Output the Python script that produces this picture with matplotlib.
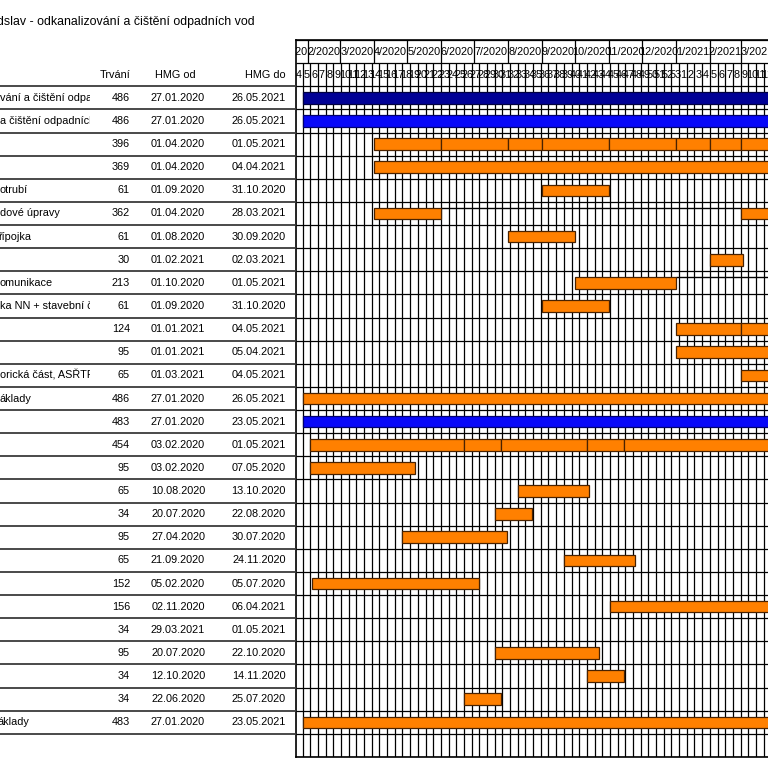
import matplotlib
matplotlib.use('Agg')
import matplotlib.pyplot as plt
import matplotlib.dates as mdates
from matplotlib.patches import Rectangle
import pandas as pd

plt.rcParams['font.family'] = ['Liberation Sans', 'DejaVu Sans']

# ---------------- data ----------------
title = "dslav - odkanalizování a čištění odpadních vod"
col_headers = ["Trvání", "HMG od", "HMG do"]

names = [
    "vání a čištění odpadních vod", "a čištění odpadních vod", "", "",
    "otrubí", "dové úpravy", "řípojka", "", "omunikace",
    "ka NN + stavební část", "", "", "orická část, ASŘTP", "áklady",
    "", "", "", "", "", "", "", "", "", "", "", "", "", "áklady",
]
durations = [486, 486, 396, 369, 61, 362, 61, 30, 213, 61, 124, 95, 65, 486,
             483, 454, 95, 65, 34, 95, 65, 152, 156, 34, 95, 34, 34, 483]
date_from = ["27.01.2020", "27.01.2020", "01.04.2020", "01.04.2020", "01.09.2020",
             "01.04.2020", "01.08.2020", "01.02.2021", "01.10.2020", "01.09.2020",
             "01.01.2021", "01.01.2021", "01.03.2021", "27.01.2020", "27.01.2020",
             "03.02.2020", "03.02.2020", "10.08.2020", "20.07.2020", "27.04.2020",
             "21.09.2020", "05.02.2020", "02.11.2020", "29.03.2021", "20.07.2020",
             "12.10.2020", "22.06.2020", "27.01.2020"]
date_to = ["26.05.2021", "26.05.2021", "01.05.2021", "04.04.2021", "31.10.2020",
           "28.03.2021", "30.09.2020", "02.03.2021", "01.05.2021", "31.10.2020",
           "04.05.2021", "05.04.2021", "04.05.2021", "26.05.2021", "23.05.2021",
           "01.05.2021", "07.05.2020", "13.10.2020", "22.08.2020", "30.07.2020",
           "24.11.2020", "05.07.2020", "06.04.2021", "01.05.2021", "22.10.2020",
           "14.11.2020", "25.07.2020", "23.05.2021"]
kinds = ["navy", "blue"] + ["orange"] * 12 + ["blue"] + ["orange"] * 13

# split / segmented bars (row index -> list of segments)
segments = {
    2: [("01.04.2020", "31.05.2020"), ("01.06.2020", "31.07.2020"),
        ("01.08.2020", "31.08.2020"), ("01.09.2020", "31.10.2020"),
        ("01.11.2020", "31.12.2020"), ("01.01.2021", "31.01.2021"),
        ("01.02.2021", "28.02.2021"), ("01.03.2021", "01.05.2021")],
    5: [("01.04.2020", "31.05.2020"), ("01.03.2021", "28.03.2021")],
    8: [("01.10.2020", "31.12.2020"), ("01.04.2021", "01.05.2021")],
    10: [("01.01.2021", "28.02.2021"), ("01.03.2021", "04.05.2021")],
    15: [("03.02.2020", "21.06.2020"), ("22.06.2020", "25.07.2020"),
         ("26.07.2020", "11.10.2020"), ("12.10.2020", "14.11.2020"),
         ("15.11.2020", "01.05.2021")],
}
connectors = {
    5: ("01.06.2020", "01.03.2021"),
    8: ("01.01.2021", "01.04.2021"),
}

view_start = "21.01.2020"
view_end = "26.03.2021"

colors = {"navy": "#000096", "blue": "#0808F8", "orange": "#FF8000"}
edges = {"navy": "#000040", "blue": "#000070", "orange": "#4a2200"}

# ---------------- helpers ----------------
def d(s):
    return pd.to_datetime(s, format="%d.%m.%Y")

def dn(s):
    return mdates.date2num(d(s))

FS = 7.8
W, H = 768, 768
fig = plt.figure(figsize=(W / 100, H / 100), dpi=100)
top_px, bot_px, split_px = 40, 757, 296
nrows = len(names)
y_top, y_bot = -2, nrows + 1

gax = fig.add_axes([split_px / W, (H - bot_px) / H, (W - split_px) / W, (bot_px - top_px) / H])
tax = fig.add_axes([0, (H - bot_px) / H, split_px / W, (bot_px - top_px) / H])

# ---------------- gantt ----------------
x0, x1 = dn(view_start), dn(view_end)
gax.set_xlim(x0, x1)
gax.set_ylim(y_bot, y_top)
gax.tick_params(left=False, bottom=False, labelleft=False, labelbottom=False)
gax.spines["right"].set_visible(False)
for s in ["left", "top", "bottom"]:
    gax.spines[s].set_linewidth(1.2)

# horizontal grid
gax.hlines(list(range(y_top, y_bot + 1)), x0, x1, color="black", lw=0.9, zorder=1)
# weekly lines
mondays = pd.date_range(d("20.01.2020"), d(view_end), freq="W-MON")
gax.vlines(mdates.date2num(mondays), -1, y_bot, color="black", lw=0.9, zorder=1)
# month lines
months = pd.date_range(d("01.01.2020"), d("01.04.2021"), freq="MS")
gax.vlines(mdates.date2num(months), -2, -1, color="black", lw=0.9, zorder=1)

for m, m_next in zip(months[:-1], months[1:]):
    c = mdates.date2num(m) + (mdates.date2num(m_next) - mdates.date2num(m)) / 2
    gax.text(c, -1.5, f"{m.month}/{m.year}", ha="center", va="center",
             fontsize=FS, clip_on=True, zorder=3)
for mo in mondays:
    wk = mo.isocalendar().week
    gax.text(mdates.date2num(mo) + 3.5, -0.5, str(wk), ha="center", va="center",
             fontsize=FS, clip_on=True, zorder=3)

for i in range(nrows):
    segs = segments.get(i, [(date_from[i], date_to[i])])
    yc = i + 0.5
    if i in connectors:
        a, b = connectors[i]
        gax.hlines(yc - 0.25, dn(a), dn(b), color="black", lw=1.0, zorder=2)
    for a, b in segs:
        left = dn(a)
        width = dn(b) + 1 - left
        gax.barh(yc, width, left=left, height=0.5, color=colors[kinds[i]],
                 edgecolor=edges[kinds[i]], linewidth=0.9, zorder=4)

# ---------------- table ----------------
tax.set_xlim(0, split_px)
tax.set_ylim(y_bot, y_top)
tax.axis("off")

tax.hlines(list(range(0, nrows + 1)), 0, split_px, color="#3a3a3a", lw=1.3)

tax.text(130, -0.5, col_headers[0], ha="right", va="center", fontsize=FS)
tax.text(175, -0.5, col_headers[1], ha="center", va="center", fontsize=FS)
tax.text(286, -0.5, col_headers[2], ha="right", va="center", fontsize=FS)

name_clip = Rectangle((0, y_top), 90, y_bot - y_top, transform=tax.transData)
name_x = {6: -1, 27: -2}
for i in range(nrows):
    yc = i + 0.5
    t = tax.text(name_x.get(i, 0), yc, names[i], ha="left", va="center",
                 fontsize=FS, clip_on=True)
    t.set_clip_path(name_clip)
    t.set_clip_on(True)
    tax.text(130, yc, str(durations[i]), ha="right", va="center", fontsize=FS)
    tax.text(178, yc, date_from[i], ha="center", va="center", fontsize=FS)
    tax.text(286, yc, date_to[i], ha="right", va="center", fontsize=FS)

fig.text(-3 / W, 1 - 22 / H, title, ha="left", va="center", fontsize=8.9)

fig.savefig("out.png", dpi=100)
